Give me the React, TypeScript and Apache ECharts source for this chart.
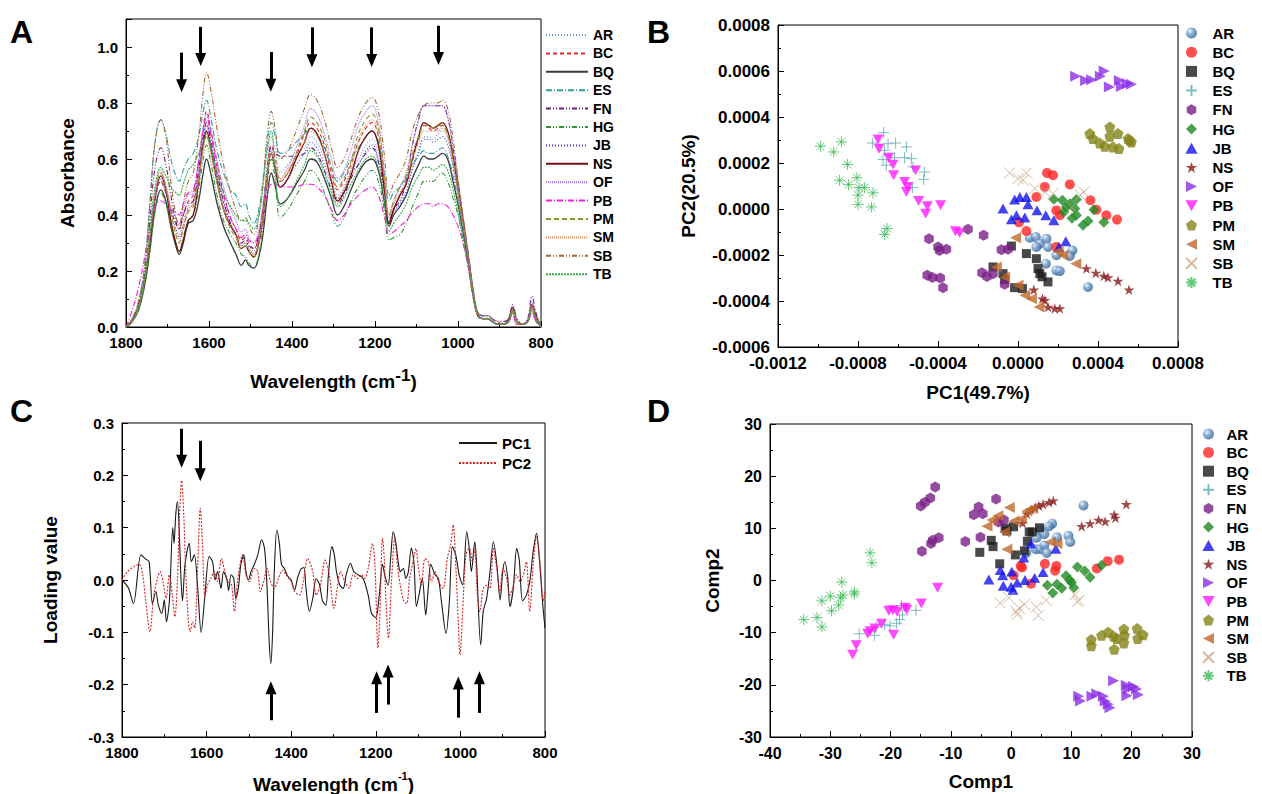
import React, { useEffect, useRef } from 'react';
import * as echarts from 'echarts';

const FONT = '"Liberation Sans", Arial, Helvetica, sans-serif';
const GROUPS = ['AR', 'BC', 'BQ', 'ES', 'FN', 'HG', 'JB', 'NS', 'OF', 'PB', 'PM', 'SM', 'SB', 'TB'];

// ---------- Panel A: spectra ----------
const WAVENUMBER_A = [1800, 1785, 1770, 1755, 1742, 1730, 1716, 1704, 1692, 1680, 1672, 1662, 1650, 1638, 1625, 1614, 1606, 1596, 1582, 1565, 1548, 1535, 1522, 1512, 1504, 1492, 1480, 1470, 1460, 1450, 1440, 1428, 1410, 1390, 1370, 1355, 1340, 1322, 1305, 1290, 1275, 1258, 1240, 1222, 1207, 1192, 1178, 1166, 1155, 1140, 1125, 1110, 1095, 1082, 1070, 1060, 1048, 1038, 1025, 1012, 1000, 988, 975, 963, 952, 940, 928, 918, 905, 890, 878, 868, 858, 845, 832, 822, 812, 800];
const ABS_AR = [0, .03, .08, .18, .33, .48, .55, .50, .43, .36, .33, .38, .43, .45, .56, .67, .72, .66, .55, .45, .37, .33, .29, .30, .29, .27, .32, .41, .58, .68, .63, .55, .58, .62, .64, .68, .66, .60, .53, .47, .50, .56, .60, .65, .67, .62, .50, .38, .43, .45, .49, .57, .63, .68, .68, .67, .69, .70, .67, .58, .48, .37, .25, .12, .05, .04, .03, .02, .01, .01, .03, .07, .02, .01, .02, .08, .04, 0];
const ABS_BC = [0, .02, .07, .17, .31, .45, .52, .48, .42, .37, .35, .40, .45, .47, .59, .71, .77, .71, .60, .48, .39, .35, .31, .32, .30, .28, .33, .42, .55, .65, .60, .52, .55, .61, .69, .73, .71, .65, .55, .49, .52, .58, .66, .71, .73, .68, .52, .37, .42, .47, .51, .59, .67, .72, .71, .70, .71, .72, .69, .60, .49, .37, .24, .11, .04, .03, .03, .02, .01, .01, .02, .05, .01, .01, .02, .06, .03, 0];
const ABS_BQ = [0, .02, .06, .15, .28, .42, .49, .45, .36, .29, .26, .30, .37, .38, .45, .55, .60, .55, .45, .36, .30, .26, .22, .24, .22, .21, .25, .33, .46, .55, .50, .44, .46, .51, .56, .60, .59, .53, .46, .40, .43, .49, .55, .59, .60, .56, .45, .36, .40, .43, .47, .53, .58, .61, .60, .60, .61, .62, .60, .52, .44, .34, .23, .11, .04, .03, .03, .02, .01, .01, .02, .06, .02, .01, .02, .07, .03, 0];
const ABS_ES = [0, .03, .09, .22, .45, .66, .74, .69, .60, .54, .52, .56, .60, .62, .68, .77, .81, .75, .64, .55, .49, .47, .43, .44, .40, .37, .42, .52, .65, .73, .68, .62, .63, .66, .69, .71, .69, .64, .57, .52, .55, .60, .64, .68, .70, .66, .55, .45, .48, .50, .53, .58, .61, .63, .62, .62, .63, .64, .61, .54, .45, .35, .24, .12, .05, .04, .04, .03, .01, .01, .02, .07, .02, .01, .02, .08, .03, 0];
const ABS_FN = [0, .03, .08, .19, .39, .57, .64, .58, .47, .38, .35, .40, .44, .45, .56, .68, .73, .67, .56, .45, .37, .33, .30, .31, .29, .28, .33, .42, .56, .64, .62, .61, .61, .61, .62, .64, .62, .56, .49, .44, .47, .53, .58, .62, .64, .59, .49, .38, .42, .45, .52, .65, .74, .79, .79, .79, .79, .79, .75, .64, .52, .39, .26, .13, .05, .04, .04, .03, .02, .02, .03, .08, .03, .01, .03, .11, .05, 0];
const ABS_HG = [0, .02, .06, .15, .28, .41, .48, .44, .36, .30, .27, .32, .38, .40, .49, .60, .65, .59, .48, .38, .33, .30, .26, .25, .23, .21, .26, .36, .51, .60, .52, .39, .42, .47, .52, .56, .54, .48, .41, .36, .39, .45, .50, .54, .56, .52, .42, .31, .32, .33, .37, .43, .48, .52, .52, .52, .54, .55, .52, .46, .40, .31, .21, .10, .04, .03, .03, .02, .01, .01, .02, .05, .01, .01, .02, .05, .02, 0];
const ABS_JB = [0, .02, .07, .17, .31, .45, .52, .48, .41, .35, .32, .36, .42, .44, .55, .66, .72, .66, .55, .44, .37, .33, .29, .30, .28, .26, .31, .40, .53, .63, .57, .50, .53, .58, .62, .66, .64, .58, .51, .46, .49, .55, .58, .63, .65, .60, .49, .37, .41, .44, .48, .56, .62, .67, .67, .66, .67, .68, .65, .57, .47, .36, .24, .11, .04, .03, .03, .02, .01, .01, .02, .06, .02, .01, .02, .07, .03, 0];
const ABS_NS = [0, .02, .07, .17, .31, .46, .54, .49, .38, .30, .27, .31, .38, .40, .52, .65, .70, .64, .53, .42, .36, .33, .28, .29, .27, .25, .30, .39, .53, .62, .56, .50, .53, .60, .66, .71, .69, .62, .52, .45, .48, .54, .63, .68, .70, .65, .50, .37, .42, .47, .51, .60, .68, .73, .72, .71, .72, .73, .70, .61, .50, .38, .25, .12, .04, .03, .03, .02, .01, .01, .03, .07, .02, .01, .02, .08, .04, 0];
const ABS_OF = [0, .02, .07, .17, .32, .46, .53, .49, .43, .39, .37, .42, .47, .48, .60, .71, .76, .70, .60, .50, .42, .38, .34, .35, .32, .30, .35, .44, .55, .62, .58, .53, .57, .64, .72, .78, .76, .69, .60, .53, .56, .63, .72, .77, .79, .73, .56, .40, .45, .50, .55, .65, .74, .79, .79, .79, .79, .79, .75, .64, .51, .38, .25, .12, .05, .04, .04, .03, .01, .01, .03, .07, .02, .01, .03, .09, .04, 0];
const ABS_PB = [0, .06, .14, .25, .36, .43, .45, .44, .42, .41, .40, .44, .48, .49, .59, .70, .75, .69, .58, .47, .39, .35, .32, .33, .31, .30, .33, .38, .47, .51, .51, .50, .50, .50, .51, .51, .50, .47, .42, .38, .40, .44, .47, .49, .50, .47, .40, .33, .34, .36, .38, .41, .43, .44, .44, .43, .44, .44, .43, .40, .36, .30, .21, .10, .04, .03, .03, .02, .01, .01, .02, .05, .01, .01, .02, .05, .02, 0];
const ABS_PM = [0, .02, .07, .17, .32, .47, .55, .50, .41, .33, .30, .35, .41, .43, .53, .64, .69, .63, .53, .42, .35, .32, .28, .29, .27, .25, .30, .39, .53, .62, .57, .52, .55, .62, .70, .75, .73, .67, .57, .50, .53, .59, .69, .74, .76, .71, .55, .40, .45, .50, .54, .62, .68, .72, .72, .71, .72, .72, .69, .60, .49, .37, .25, .12, .04, .03, .03, .02, .01, .01, .02, .06, .02, .01, .02, .07, .03, 0];
const ABS_SM = [0, .02, .07, .17, .33, .48, .56, .51, .42, .34, .31, .36, .42, .44, .53, .63, .68, .62, .52, .42, .36, .33, .29, .30, .28, .26, .31, .40, .54, .63, .58, .53, .56, .61, .66, .70, .68, .62, .53, .46, .49, .56, .67, .72, .74, .69, .53, .39, .44, .48, .52, .60, .66, .70, .70, .70, .70, .71, .68, .59, .48, .37, .25, .12, .04, .03, .03, .02, .01, .01, .02, .06, .02, .01, .02, .07, .03, 0];
const ABS_SB = [0, .03, .09, .22, .45, .66, .74, .68, .52, .40, .36, .44, .52, .55, .68, .84, .91, .85, .72, .58, .48, .42, .38, .39, .36, .33, .39, .52, .68, .77, .70, .60, .63, .70, .78, .83, .81, .74, .64, .57, .60, .67, .75, .80, .82, .77, .62, .47, .51, .55, .60, .70, .76, .79, .80, .80, .80, .81, .78, .67, .53, .40, .26, .13, .05, .04, .04, .03, .02, .01, .02, .06, .02, .01, .02, .08, .03, 0];
const ABS_TB = [0, .02, .07, .18, .35, .50, .57, .54, .50, .48, .47, .51, .56, .58, .62, .66, .68, .64, .56, .48, .43, .40, .38, .38, .37, .35, .40, .50, .63, .70, .55, .43, .46, .52, .58, .63, .61, .55, .48, .43, .46, .51, .56, .60, .61, .57, .46, .34, .37, .40, .44, .50, .54, .57, .57, .56, .57, .58, .56, .49, .41, .32, .22, .11, .04, .03, .03, .02, .01, .01, .02, .06, .02, .01, .02, .06, .03, 0];
const ABS: Record<string, number[]> = { AR: ABS_AR, BC: ABS_BC, BQ: ABS_BQ, ES: ABS_ES, FN: ABS_FN, HG: ABS_HG, JB: ABS_JB, NS: ABS_NS, OF: ABS_OF, PB: ABS_PB, PM: ABS_PM, SM: ABS_SM, SB: ABS_SB, TB: ABS_TB };
// arrows: [wavenumber, tail, tip]
const ARROWS_A = [[1666, 0.98, 0.84], [1620, 1.072, 0.933], [1451, 0.982, 0.841], [1352, 1.07, 0.929], [1208, 1.07, 0.93], [1047, 1.076, 0.937]];

// ---------- Panel C: loadings ----------
const LOAD_PC1 = [[1800, 0], [1785, -0.015], [1773, -0.045], [1755, 0.048], [1744, 0.04], [1736, 0.035], [1728, -0.045], [1720, -0.022], [1714, -0.048], [1706, -0.064], [1700, -0.038], [1695, -0.08], [1688, -0.04], [1680, 0.1], [1677, 0.07], [1673, 0.124], [1669, 0.15], [1665, 0.1], [1661, 0.01], [1657, -0.04], [1651, 0.03], [1641, 0.07], [1636, 0.035], [1629, 0.048], [1621, -0.016], [1613, -0.1], [1604, -0.03], [1594, 0.045], [1586, 0.035], [1580, 0], [1574, 0.016], [1566, -0.016], [1560, 0.016], [1552, 0], [1548, -0.02], [1542, 0.01], [1536, 0.003], [1531, -0.035], [1525, -0.016], [1519, 0.03], [1512, 0.048], [1507, 0.016], [1501, 0], [1495, 0.016], [1487, 0.03], [1479, 0.048], [1470, 0.077], [1463, 0.06], [1457, -0.016], [1452, -0.118], [1448, -0.16], [1444, -0.1], [1440, 0.016], [1434, 0.095], [1428, 0.07], [1423, 0.03], [1416, 0.022], [1410, 0.01], [1404, 0.003], [1400, 0], [1392, -0.019], [1385, 0.004], [1377, 0.021], [1370, 0.024], [1365, -0.016], [1357, -0.06], [1349, -0.035], [1341, 0.003], [1333, -0.009], [1326, -0.04], [1318, -0.048], [1312, 0.01], [1304, 0.064], [1298, 0.048], [1293, 0.016], [1285, -0.01], [1277, -0.016], [1270, 0.01], [1260, 0.032], [1252, 0.016], [1242, 0.01], [1230, 0.003], [1218, -0.029], [1210, -0.064], [1200, -0.072], [1192, -0.03], [1184, 0.03], [1179, 0.01], [1171, -0.01], [1165, 0.04], [1159, 0.092], [1153, 0.073], [1147, 0.035], [1142, 0.016], [1135, 0.022], [1129, 0.003], [1123, 0.016], [1116, 0.061], [1110, 0.035], [1104, -0.051], [1098, -0.029], [1090, 0.003], [1082, -0.067], [1076, -0.016], [1070, 0.03], [1060, 0.01], [1052, 0.003], [1045, -0.04], [1034, -0.102], [1026, -0.04], [1019, 0.064], [1011, 0.048], [1003, 0.01], [995, -0.009], [985, 0.092], [979, 0.06], [974, 0.016], [966, 0.073], [962, 0.035], [952, -0.124], [946, -0.06], [938, -0.035], [930, 0.016], [922, 0.073], [914, 0.03], [906, -0.038], [900, 0.016], [895, 0.035], [888, 0.003], [883, -0.051], [875, -0.016], [867, 0.06], [861, 0.04], [853, -0.04], [844, -0.029], [836, -0.003], [828, 0.054], [820, 0.089], [814, 0.048], [806, -0.04], [800, -0.092]];
const LOAD_PC2 = [[1800, 0], [1787, 0.016], [1771, 0.026], [1759, 0.03], [1751, 0.01], [1744, -0.04], [1734, -0.099], [1725, -0.029], [1716, 0.003], [1710, 0.016], [1703, -0.003], [1696, -0.035], [1688, 0.01], [1681, -0.029], [1675, -0.07], [1669, -0.003], [1664, 0.124], [1659, 0.19], [1654, 0.124], [1649, 0.01], [1643, -0.08], [1639, -0.099], [1633, -0.08], [1628, -0.092], [1621, 0.03], [1615, 0.137], [1610, 0.073], [1604, -0.032], [1598, -0.01], [1590, 0.003], [1582, 0.016], [1574, -0.003], [1565, 0.041], [1557, 0.016], [1549, -0.003], [1541, -0.01], [1534, -0.06], [1527, -0.003], [1515, 0.048], [1507, 0.01], [1499, -0.003], [1491, 0.016], [1486, 0.022], [1479, 0.016], [1473, -0.022], [1465, -0.003], [1457, 0.022], [1449, -0.003], [1440, -0.016], [1430, 0.003], [1420, 0.019], [1412, 0.01], [1400, -0.003], [1392, -0.022], [1381, -0.029], [1373, -0.01], [1361, 0.041], [1349, 0.016], [1341, -0.029], [1331, -0.01], [1320, 0.038], [1310, 0.01], [1299, -0.054], [1291, -0.016], [1284, 0.016], [1273, -0.003], [1263, -0.016], [1254, 0.01], [1242, 0.003], [1234, 0.01], [1226, 0.003], [1218, 0.022], [1208, 0.07], [1202, 0.029], [1195, -0.13], [1191, -0.08], [1184, 0.08], [1180, 0.041], [1176, -0.04], [1170, -0.111], [1163, -0.003], [1155, 0.08], [1149, 0.029], [1141, -0.016], [1134, -0.04], [1127, -0.045], [1120, 0.003], [1112, 0.035], [1105, 0.06], [1100, 0.029], [1092, -0.01], [1084, 0.041], [1076, 0.035], [1068, -0.003], [1060, 0.016], [1052, -0.003], [1041, -0.016], [1031, 0.041], [1023, 0.067], [1017, 0.105], [1011, 0.029], [1005, -0.08], [1001, -0.143], [995, -0.067], [987, 0.048], [979, 0.06], [971, 0.035], [966, 0.06], [960, -0.029], [954, -0.06], [946, -0.016], [938, -0.01], [930, -0.016], [922, 0.06], [914, 0.022], [907, -0.022], [899, 0.022], [891, 0.003], [883, -0.029], [877, -0.016], [867, 0.01], [859, -0.003], [851, 0.01], [844, 0.035], [836, -0.06], [828, 0.029], [820, 0.083], [812, 0.035], [804, -0.04], [800, -0.02]];
const ARROWS_C_DOWN = [[1659, 0.289, 0.215], [1615, 0.266, 0.189]];
const ARROWS_C_UP = [[1448, -0.268, -0.194], [1198, -0.254, -0.175], [1171, -0.238, -0.162], [1005, -0.263, -0.185], [955, -0.254, -0.175]];

// ---------- Panel B: PCA scores (units of 1e-4) ----------
const PCA_UNIT = 1e-4;
const PCA_AR = [[0.59, -1.25], [0.89, -1.22], [1.09, -1.51], [1.42, -1.29], [1.5, -1.65], [0.92, -1.65], [1.92, -2.01], [2.72, -1.8], [2.59, -2.04], [1.39, -2.38], [1.92, -2.67], [2.09, -2.7], [3.5, -3.39]];
const PCA_BC = [[1.45, 1.57], [1.75, 1.47], [1.34, 0.96], [2.59, 1.07], [0.92, 0.52], [3.62, 0.38], [3.92, -0.03], [1.92, -0.06], [2.09, -0.27], [4.42, -0.27], [4.95, -0.46], [0.05, -0.58], [0.42, -0.96], [1.92, -1.65]];
const PCA_BQ = [[-0.33, -1.61], [0.42, -1.94], [0.92, -2.16], [1.0, -2.59], [1.09, -2.81], [1.5, -3.17], [-1.25, -2.52], [-0.75, -2.81], [-0.67, -3.07], [-0.17, -3.42], [0.22, -3.46], [1.2, -2.95]];
const PCA_ES = [[-6.72, 3.32], [-7.28, 2.87], [-6.5, 2.84], [-6.12, 2.87], [-5.58, 2.7], [-6.67, 2.55], [-6.75, 2.15], [-6.17, 2.23], [-5.67, 2.23], [-5.33, 2.19], [-6.58, 1.9], [-5.25, 1.83], [-4.67, 1.61], [-4.72, 1.29], [-5.28, 0.93]];
const PCA_FN = [[-4.45, -1.29], [-4.0, -1.65], [-3.92, -1.8], [-3.58, -1.75], [-2.5, -0.88], [-1.72, -1.14], [-4.54, -2.88], [-4.28, -2.98], [-3.89, -3.0], [-3.75, -3.42], [-1.8, -2.77], [-1.55, -2.93], [-0.83, -1.77], [-0.5, -1.75], [-1.25, -2.81], [-0.67, -3.27]];
const PCA_HG = [[1.79, 0.42], [2.22, 0.38], [2.59, 0.23], [2.92, 0.41], [2.42, 0.09], [2.84, 0.02], [2.29, -0.13], [2.92, -0.27], [3.5, -0.52], [3.25, -0.71], [3.79, -0.03], [4.29, -0.58], [2.7, -0.4]];
const PCA_JB = [[-0.17, 0.41], [0.09, 0.52], [0.42, 0.52], [0.5, 0.2], [-0.75, 0.02], [-0.08, -0.27], [0.34, -0.37], [-0.33, -0.45], [0.95, -0.06], [1.39, -0.27], [1.79, -0.49], [2.39, -1.4], [2.05, -1.65]];
const PCA_NS = [[3.42, -2.59], [3.89, -2.78], [4.29, -2.91], [4.5, -2.98], [5.0, -3.13], [5.55, -3.51], [0.79, -3.51], [1.22, -3.9], [1.34, -3.97], [1.5, -4.26], [1.84, -4.33], [2.09, -4.33]];
const PCA_OF = [[2.88, 5.77], [3.38, 5.59], [3.68, 5.62], [4.12, 5.77], [4.31, 6.0], [4.57, 5.3], [5.07, 5.59], [5.17, 5.33], [5.47, 5.45], [5.67, 5.42]];
const PCA_PB = [[-7.0, 3.02], [-6.95, 2.62], [-6.47, 2.23], [-6.25, 1.93], [-6.22, 1.47], [-5.12, 1.68], [-5.67, 1.18], [-5.5, 0.96], [-5.58, 0.74], [-4.97, 0.35], [-4.53, 0.12], [-4.62, -0.2], [-3.87, 0.16], [-3.13, -0.97], [-2.92, -1.04]];
const PCA_PM = [[4.59, 3.57], [3.59, 3.28], [3.75, 3.06], [4.09, 2.87], [4.34, 2.73], [4.59, 3.16], [4.75, 2.7], [5.0, 3.28], [5.05, 2.63], [5.5, 3.06], [5.67, 2.91], [5.59, 2.99]];
const PCA_SM = [[-0.12, -1.25], [2.25, -2.01], [2.89, -2.38], [2.0, -1.85], [-1.08, -2.52], [-0.67, -2.96], [0.0, -3.32], [0.34, -3.75], [0.67, -3.9], [1.05, -4.26]];
const PCA_SB = [[-0.42, 1.57], [0.0, 1.32], [0.42, 1.57], [0.25, 1.25], [0.84, 0.89], [1.34, 0.74], [1.75, 0.67], [3.29, 0.74], [3.12, 0.6], [2.67, 0.06]];
const PCA_TB = [[-9.88, 2.73], [-9.22, 2.48], [-8.83, 2.92], [-8.53, 1.94], [-8.92, 1.25], [-8.47, 1.06], [-8.05, 1.36], [-7.95, 0.93], [-7.67, 0.93], [-8.0, 0.6], [-7.25, 0.7], [-8.0, 0.2], [-7.33, 0.09], [-6.55, -0.85], [-6.67, -1.11]];
const PCA: Record<string, number[][]> = { AR: PCA_AR, BC: PCA_BC, BQ: PCA_BQ, ES: PCA_ES, FN: PCA_FN, HG: PCA_HG, JB: PCA_JB, NS: PCA_NS, OF: PCA_OF, PB: PCA_PB, PM: PCA_PM, SM: PCA_SM, SB: PCA_SB, TB: PCA_TB };

// ---------- Panel D: Comp1 / Comp2 scores ----------
const PLS_AR = [[12.0, 14.4], [6.8, 10.9], [6.3, 10.4], [4.9, 9.6], [5.5, 8.9], [4.2, 8.2], [7.6, 8.3], [9.5, 8.6], [9.8, 7.4], [4.1, 6.0], [4.9, 6.0], [5.5, 6.7], [5.9, 5.3], [2.5, 5.3]];
const PLS_BC = [[17.9, 4.0], [16.0, 3.7], [14.2, 2.3], [5.6, 3.2], [7.5, 2.8], [7.3, 1.9], [1.6, 2.8], [1.8, 2.5], [3.3, -0.6], [0.4, 1.0]];
const PLS_BQ = [[-5.2, 5.4], [-3.3, 7.7], [-3.0, 6.5], [-1.9, 3.2], [-1.0, 10.0], [0.4, 10.3], [0.7, 4.9], [2.2, 5.7], [3.0, 9.3], [3.5, 9.3], [4.7, 10.1], [2.7, 7.5], [-0.7, 9.5]];
const PLS_ES = [[-25.2, -10.2], [-22.7, -10.5], [-22.4, -8.9], [-21.0, -8.4], [-20.1, -8.7], [-19.0, -8.2], [-18.5, -7.5], [-18.0, -6.6], [-18.2, -4.8], [-15.8, -5.7]];
const PLS_FN = [[-12.6, 17.9], [-13.4, 15.8], [-14.3, 15.0], [-15.0, 14.3], [-12.0, 8.2], [-13.0, 7.7], [-13.3, 7.1], [-14.8, 5.6], [-7.6, 7.5], [-5.1, 8.3], [-6.2, 12.6], [-5.4, 14.1], [-4.7, 12.8], [-2.5, 15.6], [-2.1, 11.2], [-1.2, 11.6]];
const PLS_HG = [[11.0, 2.6], [12.2, 1.8], [13.1, 0.6], [15.0, 2.9], [6.0, -0.9], [6.9, -2.4], [7.6, -0.7], [9.1, 0.9], [9.7, 0.1], [8.4, -1.5], [10.4, -1.4], [10.0, -0.4]];
const PLS_JB = [[-3.7, 0.2], [-1.8, 2.0], [-1.4, 1.0], [0.1, 1.7], [-1.3, -1.0], [0.3, -1.8], [1.0, -0.4], [2.3, 0.1], [3.9, 0.5], [5.3, 1.6], [2.1, 4.4], [7.4, 6.1], [3.3, 7.1], [0.0, -1.2]];
const PLS_NS = [[1.9, 11.0], [2.6, 12.8], [3.3, 13.6], [4.0, 14.0], [4.6, 14.3], [5.3, 14.6], [6.3, 15.0], [7.0, 15.3], [11.7, 10.4], [13.1, 10.9], [14.5, 11.6], [15.6, 11.3], [17.1, 12.6], [17.3, 12.0], [19.1, 14.6]];
const PLS_OF = [[11.2, -22.2], [11.5, -23.1], [13.4, -22.2], [14.2, -21.7], [15.3, -22.2], [15.6, -23.1], [16.1, -23.7], [16.4, -24.4], [17.0, -19.2], [19.1, -20.1], [19.4, -20.8], [19.2, -22.1], [20.3, -20.3], [20.8, -20.8], [21.1, -21.9]];
const PLS_PB = [[-26.3, -14.2], [-25.7, -12.4], [-23.8, -10.2], [-23.4, -9.7], [-22.6, -9.2], [-21.5, -8.3], [-20.3, -5.8], [-19.6, -5.7], [-18.9, -6.0], [-17.6, -5.2], [-17.3, -5.6], [-19.5, -10.4], [-14.9, -4.4], [-12.2, -1.4]];
const PLS_PM = [[13.3, -11.3], [13.3, -12.5], [15.0, -10.5], [16.1, -9.9], [17.0, -10.7], [17.1, -13.2], [17.5, -11.1], [18.7, -9.3], [18.7, -12.0], [18.8, -10.5], [20.9, -9.2], [21.0, -11.1], [21.9, -10.4]];
const PLS_SM = [[-4.0, 10.4], [-3.2, 11.6], [-2.2, 12.4], [-0.3, 14.0], [-1.1, 9.3], [-0.7, 6.0], [0.5, 11.4], [1.7, 11.8], [2.6, 13.3], [3.5, 13.8], [6.5, 7.4], [7.6, 7.1]];
const PLS_SB = [[-1.8, -4.3], [-0.4, -3.3], [0.8, -5.9], [1.0, -6.5], [1.4, -5.4], [2.2, -4.6], [4.2, -5.1], [4.5, -6.7], [5.8, -3.8], [10.6, -2.7], [11.2, -3.8], [11.0, -4.1]];
const PLS_TB = [[-34.4, -7.5], [-32.2, -7.1], [-31.4, -8.9], [-31.4, -3.9], [-30.0, -3.0], [-29.8, -5.8], [-28.6, -4.7], [-28.3, -3.3], [-27.9, -2.8], [-26.0, -2.2], [-26.0, -2.6], [-28.1, -0.3], [-23.4, 5.3], [-23.1, 3.4]];
const PLS: Record<string, number[][]> = { AR: PLS_AR, BC: PLS_BC, BQ: PLS_BQ, ES: PLS_ES, FN: PLS_FN, HG: PLS_HG, JB: PLS_JB, NS: PLS_NS, OF: PLS_OF, PB: PLS_PB, PM: PLS_PM, SM: PLS_SM, SB: PLS_SB, TB: PLS_TB };

// ---------- styles ----------
const LINE_STYLES: Record<string, { color: string; type: any; width?: number }> = {
  AR: { color: '#6f97c8', type: [1, 2] },
  BC: { color: '#e2262c', type: [4, 3] },
  BQ: { color: '#3a3a3a', type: 'solid', width: 1.3 },
  ES: { color: '#2f9ea6', type: [6, 2, 1, 2] },
  FN: { color: '#6c1880', type: [5, 2, 1, 2, 1, 2] },
  HG: { color: '#2f962f', type: [5, 2, 1, 2, 1, 2] },
  JB: { color: '#3c3cd8', type: [1, 2] },
  NS: { color: '#760c0c', type: 'solid', width: 1.3 },
  OF: { color: '#a070ee', type: [1, 1] },
  PB: { color: '#f01ee0', type: [6, 2, 1, 2] },
  PM: { color: '#8a962e', type: [5, 3] },
  SM: { color: '#dc8a58', type: [1, 1] },
  SB: { color: '#a2682e', type: [5, 2, 1, 2, 1, 2] },
  TB: { color: '#36ad4c', type: [2, 1] },
};

const HEX = 'path://M5,0L9.33,2.5L9.33,7.5L5,10L0.67,7.5L0.67,2.5Z';
const PENT = 'path://M5,0L10,3.8L8.1,10L1.9,10L0,3.8Z';
const STAR = 'path://M5,0L6.2,3.6L10,3.6L6.9,5.8L8.1,9.5L5,7.2L1.9,9.5L3.1,5.8L0,3.6L3.8,3.6Z';
const PLUS = 'path://M5,0L5,10M0,5L10,5';
const CROSS = 'path://M0,0L10,10M10,0L0,10';
const ASTER = 'path://M5,0L5,10M0,5L10,5M1.5,1.5L8.5,8.5M8.5,1.5L1.5,8.5';
const SQUARE = 'path://M0,0L10,0L10,10L0,10Z';
const DIAMOND = 'path://M5,0L10,5L5,10L0,5Z';
const TRI_UP = 'path://M5,0L10,9L0,9Z';

const sphere = () =>
  new echarts.graphic.RadialGradient(0.35, 0.32, 0.7, [
    { offset: 0, color: '#e8f0f8' },
    { offset: 0.45, color: '#6d9bcb' },
    { offset: 1, color: '#36618f' },
  ]);

const MARKERS: Record<string, any> = {
  AR: { symbol: 'circle', size: 10, fill: 'sphere' },
  BC: { symbol: 'circle', size: 10, fill: '#ff2424' },
  BQ: { symbol: SQUARE, size: 9, fill: '#1c1c1c' },
  ES: { symbol: PLUS, size: 11, stroke: '#62a8b2' },
  FN: { symbol: HEX, size: 11, fill: '#7a1e88' },
  HG: { symbol: DIAMOND, size: 11, fill: '#1e8a22' },
  JB: { symbol: TRI_UP, size: 11, fill: '#1414ee' },
  NS: { symbol: STAR, size: 11, fill: '#8a1a1a' },
  OF: { symbol: 'path://M0,0L10,5L0,10Z', size: 11, fill: '#8a2ee6' },
  PB: { symbol: 'path://M0,0L10,0L5,9Z', size: 11, fill: '#ff1aff' },
  PM: { symbol: PENT, size: 11, fill: '#84841a' },
  SM: { symbol: 'path://M10,0L0,5L10,10Z', size: 11, fill: '#c0692c' },
  SB: { symbol: CROSS, size: 11, stroke: '#c9a682' },
  TB: { symbol: ASTER, size: 11, stroke: '#3cba5a' },
};

const markerItemStyle = (g: string) => {
  const m = MARKERS[g];
  if (m.stroke) return { color: 'rgba(255,255,255,0)', borderColor: m.stroke, borderWidth: 1 };
  return { color: m.fill === 'sphere' ? sphere() : m.fill };
};

const labelStyle = { color: '#000', fontWeight: 'bold' as const, fontSize: 15, fontFamily: FONT };
const nameStyle = (extraRich?: any) => ({
  color: '#000',
  fontWeight: 'bold' as const,
  fontSize: 19,
  fontFamily: FONT,
  rich: extraRich,
});

const baseAxis = (gridIndex: number, extra: any) => ({
  gridIndex,
  type: 'value',
  axisLine: { show: true, onZero: false, lineStyle: { color: '#000', width: 1 } },
  axisTick: { show: true, inside: true, length: 6, lineStyle: { color: '#000' } },
  minorTick: { show: true, splitNumber: 2, length: 3, lineStyle: { color: '#000' } },
  splitLine: { show: false },
  minorSplitLine: { show: false },
  nameLocation: 'middle',
  ...extra,
  axisLabel: { ...labelStyle, formatter: (v: number) => String(v), ...(extra.axisLabel || {}) },
});

function buildOption() {
  const series: any[] = [];

  // Panel A
  GROUPS.forEach((g, idx) => {
    const ls = LINE_STYLES[g];
    const s: any = {
      type: 'line',
      name: 'A_' + g,
      xAxisIndex: 0,
      yAxisIndex: 0,
      data: WAVENUMBER_A.map((w, i) => [w, ABS[g][i]]),
      symbol: 'none',
      smooth: 0.4,
      color: ls.color,
      lineStyle: { color: ls.color, width: ls.width || 1.1, type: ls.type },
      silent: true,
      z: 2,
    };
    if (idx === 0) {
      s.markLine = {
        silent: true,
        symbol: ['none', 'triangle'],
        symbolSize: [11, 13],
        lineStyle: { color: '#000', width: 3, type: 'solid' },
        itemStyle: { color: '#000' },
        label: { show: false },
        emphasis: { disabled: true },
        data: ARROWS_A.map(([x, y0, y1]) => [{ coord: [x, y0] }, { coord: [x, y1 + 0.022] }]),
      };
    }
    series.push(s);
  });

  // Panel B
  GROUPS.forEach((g) => {
    const m = MARKERS[g];
    series.push({
      type: 'scatter',
      name: 'B_' + g,
      xAxisIndex: 1,
      yAxisIndex: 1,
      data: PCA[g].map(([a, b]) => [a * PCA_UNIT, b * PCA_UNIT]),
      symbol: m.symbol,
      symbolSize: m.size,
      symbolKeepAspect: true,
      itemStyle: markerItemStyle(g),
      silent: true,
    });
  });

  // Panel C
  const arrowC = (arr: number[][], dir: number) =>
    arr.map(([x, y0, y1]) => [{ coord: [x, y0] }, { coord: [x, y1 + dir * 0.012] }]);
  series.push({
    type: 'line',
    name: 'PC1',
    xAxisIndex: 2,
    yAxisIndex: 2,
    data: LOAD_PC1,
    symbol: 'none',
    smooth: 0.3,
    color: '#1a1a1a',
    lineStyle: { color: '#1a1a1a', width: 1.1, type: 'solid' },
    silent: true,
    markLine: {
      silent: true,
      symbol: ['none', 'triangle'],
      symbolSize: [11, 13],
      lineStyle: { color: '#000', width: 3, type: 'solid' },
      itemStyle: { color: '#000' },
      label: { show: false },
      emphasis: { disabled: true },
      data: [...arrowC(ARROWS_C_DOWN, 1), ...arrowC(ARROWS_C_UP, -1)],
    },
  });
  series.push({
    type: 'line',
    name: 'PC2',
    xAxisIndex: 2,
    yAxisIndex: 2,
    data: LOAD_PC2,
    symbol: 'none',
    smooth: 0.3,
    color: '#d42222',
    lineStyle: { color: '#d42222', width: 1.1, type: [2, 1.5] },
    silent: true,
  });

  // Panel D
  GROUPS.forEach((g) => {
    const m = MARKERS[g];
    series.push({
      type: 'scatter',
      name: 'D_' + g,
      xAxisIndex: 3,
      yAxisIndex: 3,
      data: PLS[g],
      symbol: m.symbol,
      symbolSize: m.size,
      symbolKeepAspect: true,
      itemStyle: markerItemStyle(g),
      silent: true,
    });
  });

  const gridBase = { show: true, borderColor: '#000', borderWidth: 1, backgroundColor: 'transparent', containLabel: false, outerBoundsMode: 'none' };
  const legendText = { color: '#000', fontWeight: 'bold' as const, fontSize: 14, fontFamily: FONT, lineHeight: 16 };
  const stripPrefix = (n: string) => n.slice(2);
  const superRich = (big: number, sup: number) => ({
    a: { fontSize: 19, fontWeight: 'bold', fontFamily: FONT, color: '#000', verticalAlign: 'bottom', lineHeight: 24 },
    s: { fontSize: sup, fontWeight: 'bold', fontFamily: FONT, color: '#000', verticalAlign: 'top', lineHeight: big },
  });
  const hiddenSymbol = { opacity: 0, color: 'rgba(0,0,0,0)', borderWidth: 0 };

  return {
    animation: false,
    backgroundColor: '#ffffff',
    textStyle: { fontFamily: FONT },
    grid: [
      { ...gridBase, left: 126, top: 19, width: 415, height: 308 },
      { ...gridBase, left: 778, top: 25, width: 400, height: 322 },
      { ...gridBase, left: 122, top: 423, width: 423, height: 314 },
      { ...gridBase, left: 770, top: 424, width: 422, height: 313 },
    ],
    xAxis: [
      baseAxis(0, {
        min: 800, max: 1800, interval: 200, inverse: true,
        name: '{a|Wavelength (cm}{s|-1}{a|)}', nameGap: 40,
        nameTextStyle: nameStyle(superRich(14, 17)),
        axisLabel: { margin: 8 },
      }),
      baseAxis(1, {
        min: -0.0012, max: 0.0008, interval: 0.0004,
        name: 'PC1(49.7%)', nameGap: 36, nameTextStyle: nameStyle(),
        axisLabel: { margin: 8, fontSize: 17, formatter: (v: number) => v.toFixed(4) },
      }),
      baseAxis(2, {
        min: 800, max: 1800, interval: 200, inverse: true,
        name: '{a|Wavelength (cm}{s|-1}{a|)}', nameGap: 33,
        nameTextStyle: nameStyle(superRich(12, 11)),
        axisLabel: { margin: 8 },
      }),
      baseAxis(3, {
        min: -40, max: 30, interval: 10,
        name: 'Comp1', nameGap: 35, nameTextStyle: nameStyle(),
        axisLabel: { margin: 8, fontSize: 16 },
      }),
    ],
    yAxis: [
      baseAxis(0, {
        min: 0, max: 1.1, interval: 0.2,
        name: 'Absorbance', nameGap: 49, nameTextStyle: nameStyle(),
        axisLabel: { margin: 8, showMaxLabel: false, formatter: (v: number) => v.toFixed(1) },
      }),
      baseAxis(1, {
        min: -0.0006, max: 0.0008, interval: 0.0002,
        name: 'PC2(20.5%)', nameGap: 80, nameTextStyle: nameStyle(),
        axisLabel: { margin: 8, fontSize: 17, formatter: (v: number) => v.toFixed(4) },
      }),
      baseAxis(2, {
        min: -0.3, max: 0.3, interval: 0.1,
        name: 'Loading value', nameGap: 62, nameTextStyle: nameStyle(),
        axisLabel: { margin: 8, formatter: (v: number) => v.toFixed(1) },
      }),
      baseAxis(3, {
        min: -30, max: 30, interval: 10,
        name: 'Comp2', nameGap: 48, nameTextStyle: nameStyle(),
        axisLabel: { margin: 8, fontSize: 16 },
      }),
    ],
    legend: [
      {
        orient: 'vertical', left: 545, top: 27, padding: 0,
        itemWidth: 42, itemHeight: 10, itemGap: 2.4,
        data: GROUPS.map((g) => 'A_' + g), formatter: stripPrefix,
        itemStyle: hiddenSymbol,
        textStyle: legendText, selectedMode: false,
      },
      {
        orient: 'vertical', left: 1185, top: 25, padding: 0,
        itemWidth: 32, itemHeight: 11, itemGap: 3.2,
        data: GROUPS.map((g) => 'B_' + g), formatter: stripPrefix,
        textStyle: { ...legendText, fontSize: 15 }, selectedMode: false,
      },
      {
        orient: 'vertical', left: 458, top: 435, padding: 0,
        itemWidth: 38, itemHeight: 10, itemGap: 4,
        data: ['PC1', 'PC2'],
        itemStyle: hiddenSymbol,
        textStyle: { ...legendText, fontSize: 15 }, selectedMode: false,
      },
      {
        orient: 'vertical', left: 1202, top: 426, padding: 0,
        itemWidth: 26, itemHeight: 11, itemGap: 2.6,
        data: GROUPS.map((g) => 'D_' + g), formatter: stripPrefix,
        textStyle: { ...legendText, fontSize: 15 }, selectedMode: false,
      },
    ],
    graphic: [
      { type: 'text', left: 10, top: 16, style: { text: 'A', font: `bold 32px ${FONT}`, fill: '#000' } },
      { type: 'text', left: 647, top: 16, style: { text: 'B', font: `bold 32px ${FONT}`, fill: '#000' } },
      { type: 'text', left: 10, top: 395, style: { text: 'C', font: `bold 32px ${FONT}`, fill: '#000' } },
      { type: 'text', left: 647, top: 395, style: { text: 'D', font: `bold 32px ${FONT}`, fill: '#000' } },
    ],
    series,
  };
}

export default function App() {
  const ref = useRef<HTMLDivElement>(null);
  useEffect(() => {
    document.body.style.margin = '0';
    if (!ref.current) return;
    const chart = echarts.init(ref.current, undefined, { renderer: 'svg' });
    chart.setOption(buildOption() as any);
    return () => chart.dispose();
  }, []);
  return <div ref={ref} style={{ position: 'absolute', left: 0, top: 0, width: 1262, height: 794, background: '#fff' }} />;
}
